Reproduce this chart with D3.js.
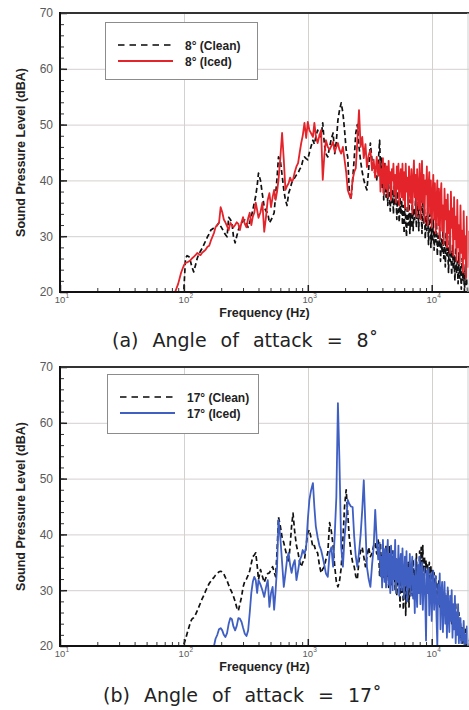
<!DOCTYPE html>
<html><head><meta charset="utf-8">
<script src="https://cdn.jsdelivr.net/npm/d3@7"></script>
<style>
html,body{margin:0;padding:0;background:#fff;}
svg{display:block;}
</style></head><body>
<svg id="chart" width="469" height="710"></svg>
<script>
// Frequency grid shared by all four spectra (Hz); finer spacing above 3.8 kHz
const freqHz = [80,85,90,95,
  100,103,106,110,113,116,120,124,128,132,
  136,140,145,150,155,160,165,170,175,180,
  186,192,198,204,210,216,223,230,237,244,
  251,259,267,275,283,292,300,310,320,330,
  340,350,360,370,380,390,400,415,430,445,
  460,475,490,505,520,535,550,565,580,600,
  620,640,660,680,700,720,740,760,785,810,
  835,860,885,910,940,970,
  1000,1030,1060,1100,1130,1160,1200,1240,1280,1320,
  1360,1400,1450,1500,1550,1600,1650,1700,1750,1800,
  1860,1920,1980,2040,2100,2160,2230,2300,2370,2440,
  2510,2590,2670,2750,2830,2920,3000,3100,3200,3300,
  3400,3500,3600,3700,
  3800,3860,3920,3980,4040,4100,4160,4220,4280,4350,
  4420,4490,4560,4630,4700,4770,4840,4910,4990,5070,
  5150,5230,5310,5390,5470,5550,5630,5720,5810,5900,
  5990,6080,6170,6260,6360,6460,6560,6660,6760,6860,
  6970,7080,7190,7300,7410,7520,7630,7750,7870,7990,
  8110,8230,8350,8480,8610,8740,8870,9000,9140,9280,
  9420,9560,9700,9850,10000,10150,10300,10460,10620,10780,
  10940,11100,11270,11440,11610,11780,11960,12140,12320,12500,
  12690,12880,13070,13270,13470,13670,13870,14080,14290,14500,
  14720,14940,15160,15390,15620,15850,16090,16330,16570,16820,
  17070,17330,17590,17850,18120,18390,18670,18950,19230,19520,
  19810];

// Sound pressure level (dBA), 8 deg angle of attack
const clean8 = [null,null,null,null,
  20.5,26.0,26.5,26.3,25.5,24.5,23.6,24.8,26.0,26.8,
  27.3,27.8,28.5,29.2,29.9,30.4,31.1,31.3,31.5,31.6,
  32.0,32.4,31.8,31.3,30.8,30.3,29.9,33.4,33.0,32.4,
  30.0,28.8,30.0,31.1,31.8,32.4,32.7,32.9,32.2,31.6,
  32.5,33.5,34.7,36.0,37.2,39.0,41.3,40.0,37.5,35.2,
  34.5,34.2,32.4,32.9,33.5,34.2,37.5,40.5,44.2,43.6,
  41.0,38.3,36.5,35.5,37.7,38.5,39.5,40.1,40.5,41.0,
  41.3,42.0,42.4,43.5,44.2,43.9,
  43.7,45.0,46.0,47.2,46.5,47.8,49.0,48.2,47.8,50.3,
  46.5,44.8,44.2,46.0,47.5,48.5,44.8,47.0,50.8,52.5,
  53.9,52.1,49.0,45.5,44.2,38.3,36.5,40.0,44.0,48.5,
  50.0,46.0,43.4,41.5,40.1,39.0,38.3,42.0,46.7,43.5,
  42.0,41.0,40.1,43.0,
  47.2,42.0,44.0,38.5,41.5,36.5,43.0,39.0,37.0,40.5,
  35.5,39.5,37.0,34.5,40.0,36.0,38.5,34.0,39.0,35.5,
  37.5,33.0,38.0,35.0,32.5,37.0,34.0,36.5,32.0,35.5,
  30.5,36.0,33.0,29.9,35.5,32.0,36.5,30.5,34.0,31.5,
  36.5,31.0,35.0,33.0,37.0,31.5,34.5,36.0,31.0,37.5,
  40.0,34.0,30.5,36.5,32.0,35.0,29.5,33.5,31.0,35.0,
  28.5,32.5,34.0,28.0,31.5,29.0,33.0,27.5,31.0,29.0,
  32.5,26.5,30.0,28.0,31.5,25.5,29.5,27.0,31.0,26.0,
  29.0,24.5,30.5,26.5,28.0,23.5,30.0,25.5,27.5,23.0,
  28.5,24.0,26.5,22.0,28.0,23.5,25.5,21.5,27.0,22.5,
  24.5,20.5,26.0,22.0,23.5,20.0,25.0,21.0,22.5,20.0,
  20.5];

const iced8 = [null,20.0,21.5,23.5,
  24.8,25.2,25.3,25.5,25.7,26.0,26.3,26.6,27.0,26.8,
  26.6,27.0,27.3,27.6,28.1,28.3,29.2,29.9,30.6,31.6,
  32.0,32.4,35.2,34.3,33.0,32.5,31.8,31.1,32.4,32.0,
  31.6,32.0,32.5,32.2,31.1,32.5,33.4,32.2,31.6,33.2,
  34.2,32.0,33.5,34.2,36.0,34.7,33.3,34.3,36.0,30.8,
  33.5,36.5,37.7,35.2,37.0,38.3,36.5,38.0,40.1,44.0,
  48.5,43.7,38.3,39.0,39.5,40.5,39.8,40.1,41.5,42.5,
  43.1,45.0,46.7,48.0,50.3,47.6,
  50.5,49.0,48.5,47.8,50.3,48.0,46.7,48.0,49.0,40.1,
  44.5,47.2,46.0,45.5,46.2,46.9,45.1,46.0,46.7,45.5,
  44.8,46.0,43.7,41.5,38.3,37.5,36.8,40.1,41.5,42.2,
  47.0,52.6,46.0,47.8,44.0,46.5,42.4,44.5,45.4,41.8,
  43.7,40.5,44.2,40.8,
  43.5,38.0,42.0,39.5,44.0,37.5,41.0,43.0,38.5,42.5,
  37.0,43.5,39.5,41.5,36.5,42.0,40.0,43.0,37.5,41.0,
  36.0,42.5,38.5,43.0,35.5,40.5,42.0,37.0,43.0,36.5,
  41.5,35.0,43.0,38.0,40.5,34.5,42.5,39.0,36.0,42.0,
  34.0,40.0,43.6,37.0,41.0,33.5,42.0,38.5,35.0,43.0,
  33.0,39.5,43.5,36.0,41.0,32.5,40.0,37.5,42.5,32.0,
  38.5,41.5,34.0,40.0,31.5,37.0,41.0,33.0,39.5,30.5,
  36.0,40.0,32.0,38.5,29.5,37.0,39.5,31.0,35.5,28.5,
  38.5,33.0,36.5,28.0,37.5,30.5,34.5,27.0,38.0,31.5,
  35.0,26.5,37.0,29.5,33.5,25.5,36.5,28.0,32.0,25.0,
  35.5,27.0,31.0,23.5,34.5,26.0,30.0,22.5,33.5,24.5,
  31.0];

// Sound pressure level (dBA), 17 deg angle of attack
const clean17 = [null,null,null,null,
  20.3,21.2,22.2,23.4,24.3,24.8,25.1,25.6,26.3,27.0,
  27.7,28.4,29.1,29.9,30.6,31.2,31.6,32.0,32.3,32.7,
  33.0,33.3,33.4,33.3,32.9,32.3,31.7,30.9,30.2,29.6,
  28.9,28.0,26.9,26.3,27.5,28.8,30.5,31.6,32.0,32.7,
  33.5,34.8,36.0,36.3,36.7,34.5,31.9,33.7,32.5,31.4,
  32.3,33.0,33.1,33.7,34.2,33.3,32.4,37.0,43.1,41.5,
  39.5,38.5,37.2,36.0,34.9,38.0,41.5,43.8,40.3,38.0,
  36.7,35.0,34.2,35.0,35.4,38.0,
  40.3,40.8,39.5,37.7,38.0,37.0,36.7,34.5,33.1,33.8,
  34.2,35.5,36.7,42.1,40.5,38.0,34.2,31.5,30.6,31.5,
  34.0,39.0,45.0,48.0,43.8,39.5,36.7,35.0,34.2,32.5,
  31.9,35.4,37.0,37.7,36.0,34.2,36.0,37.7,36.0,36.7,
  38.0,38.5,36.5,39.0,
  32.5,38.5,34.0,36.5,32.0,37.5,33.5,35.0,38.0,32.5,
  36.5,30.5,38.0,33.0,35.5,31.0,37.0,32.0,34.5,30.0,
  36.0,29.0,34.0,31.0,35.5,27.0,33.0,29.5,35.0,26.5,
  31.5,34.5,25.5,33.0,28.5,35.0,27.0,32.5,29.5,34.5,
  29.0,35.5,31.5,33.5,30.0,36.5,32.0,34.5,30.5,37.0,
  31.5,37.7,33.5,38.0,31.0,36.0,33.0,35.4,31.5,34.5,
  30.5,35.0,32.0,34.2,29.5,33.5,31.0,33.1,30.0,32.5,
  28.0,31.4,29.5,32.0,27.0,30.5,28.5,31.0,26.5,29.5,
  29.5,25.5,28.5,26.5,30.0,24.5,27.5,25.5,28.5,24.0,
  27.0,23.0,26.5,24.0,27.5,22.0,25.5,23.0,26.0,21.5,
  24.0,21.0,23.5,20.5,22.5,21.5,23.0,20.0,22.0,20.5,
  21.0];

const iced17 = [null,null,null,null,
  null,null,null,null,null,null,null,null,null,null,
  null,null,null,null,null,null,null,null,20.0,21.3,
  22.0,23.0,23.2,22.8,22.0,21.6,22.3,24.0,25.0,24.8,
  23.5,22.8,23.6,25.0,24.9,24.3,23.3,22.2,21.8,22.8,
  26.0,29.5,31.5,32.4,31.8,29.5,31.8,31.0,30.0,28.8,
  30.5,31.8,27.0,29.5,30.6,26.5,30.0,34.2,42.6,39.5,
  35.0,30.6,33.0,35.5,36.7,34.5,33.1,34.5,35.4,31.8,
  33.5,35.4,36.0,37.2,36.5,37.7,
  42.6,46.2,47.8,49.2,44.9,41.5,39.5,38.0,37.2,35.9,
  34.5,33.0,32.4,36.7,37.7,34.2,40.0,46.7,63.5,53.3,
  37.7,34.2,39.5,42.6,46.2,45.5,45.0,44.9,39.5,36.0,
  34.2,36.7,40.0,44.4,49.7,41.3,34.2,32.0,30.6,34.5,
  37.7,44.4,39.0,35.5,
  38.5,32.5,36.0,30.5,39.0,34.0,31.5,37.5,30.5,35.5,
  39.0,31.0,36.5,29.5,38.0,33.5,30.0,37.0,32.0,39.0,
  29.5,35.5,31.5,38.0,29.0,34.5,36.5,30.0,37.5,32.0,
  28.5,36.0,31.0,37.0,28.0,34.0,30.5,36.5,29.0,33.5,
  36.0,28.5,32.5,25.9,35.5,30.0,27.0,34.5,29.5,36.0,
  27.5,33.0,35.0,26.5,31.5,34.0,28.0,21.0,33.5,29.5,
  34.0,25.5,31.0,33.0,24.5,30.0,33.5,26.5,29.0,32.5,
  25.0,20.0,31.0,27.5,33.0,23.0,29.5,31.5,22.5,28.0,
  31.5,24.0,29.0,21.5,30.5,26.0,22.5,29.0,24.5,30.0,
  21.5,27.5,23.0,29.0,20.5,26.0,22.0,27.5,20.5,24.5,
  25.0,20.5,23.0,21.0,24.5,20.0,22.0,20.5,23.5,20.0,
  20.5];

// Axis ticks and labels
const dbTicks = [20, 30, 40, 50, 60, 70];
const decadeTicks = [10, 100, 1000, 10000];
const decadeExponents = ["1", "2", "3", "4"];
const legend8 = ["8\u00b0 (Clean)", "8\u00b0 (Iced)"];
const legend17 = ["17\u00b0 (Clean)", "17\u00b0 (Iced)"];
const captions = ["(a) Angle of attack = 8\u02da", "(b) Angle of attack = 17\u02da"];

[clean8, iced8, clean17, iced17].forEach(s => {
  if (s.length !== freqHz.length) throw new Error("series length " + s.length + " vs " + freqHz.length);
});

const svg = d3.select("#chart");
const FONT = "'Liberation Sans', Arial, sans-serif";
const LEFT = 60, RIGHT = 469;

const panels = [
  { top: 13, bottom: 292, clean: clean8, iced: iced8, icedColor: "#e3242b",
    labels: legend8, caption: captions[0], captionX: 112, captionY: 347,
    legend: { x: 105, y: 22, w: 152, h: 57 } },
  { top: 367, bottom: 646, clean: clean17, iced: iced17, icedColor: "#3f5fc2",
    labels: legend17, caption: captions[1], captionX: 103, captionY: 702,
    legend: { x: 107, y: 374, w: 151, h: 59 } }
];

const minorFreqTicks = [];
decadeTicks.forEach(d => { for (let m = 2; m <= 9; m++) if (d * m <= 20000) minorFreqTicks.push(d * m); });
const minorDbTicks = d3.range(20, 71, 2);

panels.forEach((p, i) => {
  const x = d3.scaleLog().domain([10, 20000]).range([LEFT, RIGHT]);
  const y = d3.scaleLinear().domain([20, 70]).range([p.bottom, p.top]);
  const g = svg.append("g");

  // grid
  g.selectAll("line.hgrid").data(dbTicks.slice(1, -1)).join("line")
    .attr("x1", LEFT).attr("x2", RIGHT).attr("y1", d => y(d) + 0.5).attr("y2", d => y(d) + 0.5)
    .attr("stroke", "#d6cfcf").attr("stroke-width", 1);
  g.selectAll("line.vgrid").data(decadeTicks.slice(1)).join("line")
    .attr("x1", d => Math.round(x(d)) + 0.5).attr("x2", d => Math.round(x(d)) + 0.5)
    .attr("y1", p.top).attr("y2", p.bottom)
    .attr("stroke", "#d6cfcf").attr("stroke-width", 1);

  // spectra: clean (dashed) first, iced drawn over it
  const clipId = "plotclip" + i;
  svg.append("clipPath").attr("id", clipId).append("rect")
    .attr("x", LEFT).attr("y", p.top).attr("width", RIGHT - LEFT).attr("height", p.bottom - p.top);
  const plot = g.append("g").attr("clip-path", `url(#${clipId})`);
  const rows = vals => freqHz.map((f, k) => ({ f, v: vals[k] }));
  const line = d3.line().defined(d => d.v != null).x(d => x(d.f)).y(d => y(d.v));
  plot.append("path").datum(rows(p.clean)).attr("d", line)
    .attr("fill", "none").attr("stroke", "#111").attr("stroke-width", 1.7)
    .attr("stroke-dasharray", "5,3").attr("stroke-linejoin", "round");
  plot.append("path").datum(rows(p.iced)).attr("d", line)
    .attr("fill", "none").attr("stroke", p.icedColor).attr("stroke-width", 1.8)
    .attr("stroke-linejoin", "round");

  // y axis: major ticks with labels, minor ticks inward
  const yMajor = g.append("g").attr("transform", `translate(${LEFT},0)`)
    .call(d3.axisLeft(y).tickValues(dbTicks).tickSize(-7).tickSizeOuter(0).tickPadding(7).tickFormat(d3.format("d")));
  yMajor.select(".domain").remove();
  yMajor.selectAll("line").attr("stroke", "#222").attr("stroke-width", 1.5);
  yMajor.selectAll("text").attr("font-family", FONT).attr("font-size", 12).attr("fill", "#5a5a5a");
  const yMinor = g.append("g").attr("transform", `translate(${LEFT},0)`)
    .call(d3.axisLeft(y).tickValues(minorDbTicks).tickSize(-4).tickSizeOuter(0).tickFormat(""));
  yMinor.select(".domain").remove();
  yMinor.selectAll("line").attr("stroke", "#333").attr("stroke-width", 1);

  // x axis: decade ticks with power-of-ten labels, minor ticks inward
  const xMajor = g.append("g").attr("transform", `translate(0,${p.bottom})`)
    .call(d3.axisBottom(x).tickValues(decadeTicks).tickSize(-7).tickSizeOuter(0).tickFormat(""));
  xMajor.select(".domain").remove();
  xMajor.selectAll("line").attr("stroke", "#222").attr("stroke-width", 1.5);
  const xMinor = g.append("g").attr("transform", `translate(0,${p.bottom})`)
    .call(d3.axisBottom(x).tickValues(minorFreqTicks).tickSize(-4).tickSizeOuter(0).tickFormat(""));
  xMinor.select(".domain").remove();
  xMinor.selectAll("line").attr("stroke", "#333").attr("stroke-width", 1);

  decadeTicks.forEach((d, k) => {
    g.append("text").attr("x", x(d)).attr("y", p.bottom + 11).attr("text-anchor", "middle")
      .attr("font-family", FONT).attr("font-size", 9.5).attr("fill", "#5a5a5a").text("10");
    g.append("text").attr("x", x(d) + 5.5).attr("y", p.bottom + 6).attr("text-anchor", "start")
      .attr("font-family", FONT).attr("font-size", 6.5).attr("fill", "#5a5a5a").text(decadeExponents[k]);
  });

  // frame
  g.append("line").attr("x1", LEFT).attr("x2", RIGHT).attr("y1", p.top).attr("y2", p.top)
    .attr("stroke", "#333").attr("stroke-width", 2);
  g.append("line").attr("x1", LEFT).attr("x2", RIGHT).attr("y1", p.bottom).attr("y2", p.bottom)
    .attr("stroke", "#111").attr("stroke-width", 2);
  g.append("line").attr("x1", LEFT).attr("x2", LEFT).attr("y1", p.top - 1).attr("y2", p.bottom + 1)
    .attr("stroke", "#111").attr("stroke-width", 2);
  g.append("line").attr("x1", RIGHT - 1).attr("x2", RIGHT - 1).attr("y1", p.top).attr("y2", p.bottom)
    .attr("stroke", "#cfcfcf").attr("stroke-width", 1);

  // axis titles
  g.append("text")
    .attr("transform", `translate(25,${(p.top + p.bottom) / 2}) rotate(-90)`)
    .attr("text-anchor", "middle").attr("font-family", FONT).attr("font-weight", "bold")
    .attr("font-size", 12.5).attr("fill", "#222").text("Sound Pressure Level (dBA)");
  g.append("text").attr("x", (LEFT + RIGHT) / 2).attr("y", p.bottom + 25)
    .attr("text-anchor", "middle").attr("font-family", FONT).attr("font-weight", "bold")
    .attr("font-size", 12.5).attr("fill", "#222").text("Frequency (Hz)");

  // legend
  const L = p.legend;
  const lg = g.append("g");
  lg.append("rect").attr("x", L.x + 0.5).attr("y", L.y + 0.5).attr("width", L.w).attr("height", L.h)
    .attr("fill", "#fff").attr("stroke", "#8c8c8c").attr("stroke-width", 1);
  const row1 = L.y + 23, row2 = L.y + 39;
  lg.append("line").attr("x1", L.x + 13).attr("x2", L.x + 68).attr("y1", row1).attr("y2", row1)
    .attr("stroke", "#444").attr("stroke-width", 2).attr("stroke-dasharray", "6.5,5");
  lg.append("line").attr("x1", L.x + 13).attr("x2", L.x + 68).attr("y1", row2).attr("y2", row2)
    .attr("stroke", p.icedColor).attr("stroke-width", 2);
  [row1, row2].forEach((ry, k) => {
    lg.append("text").attr("x", L.x + 80).attr("y", ry + 4.5)
      .attr("font-family", FONT).attr("font-weight", "bold").attr("font-size", 12)
      .attr("fill", "#222").text(p.labels[k]);
  });

  // caption
  g.append("text").attr("x", p.captionX).attr("y", p.captionY)
    .attr("font-family", "'DejaVu Sans', sans-serif").attr("font-size", 19)
    .attr("word-spacing", 8).attr("fill", "#222").text(p.caption);
});
</script>
</body></html>
